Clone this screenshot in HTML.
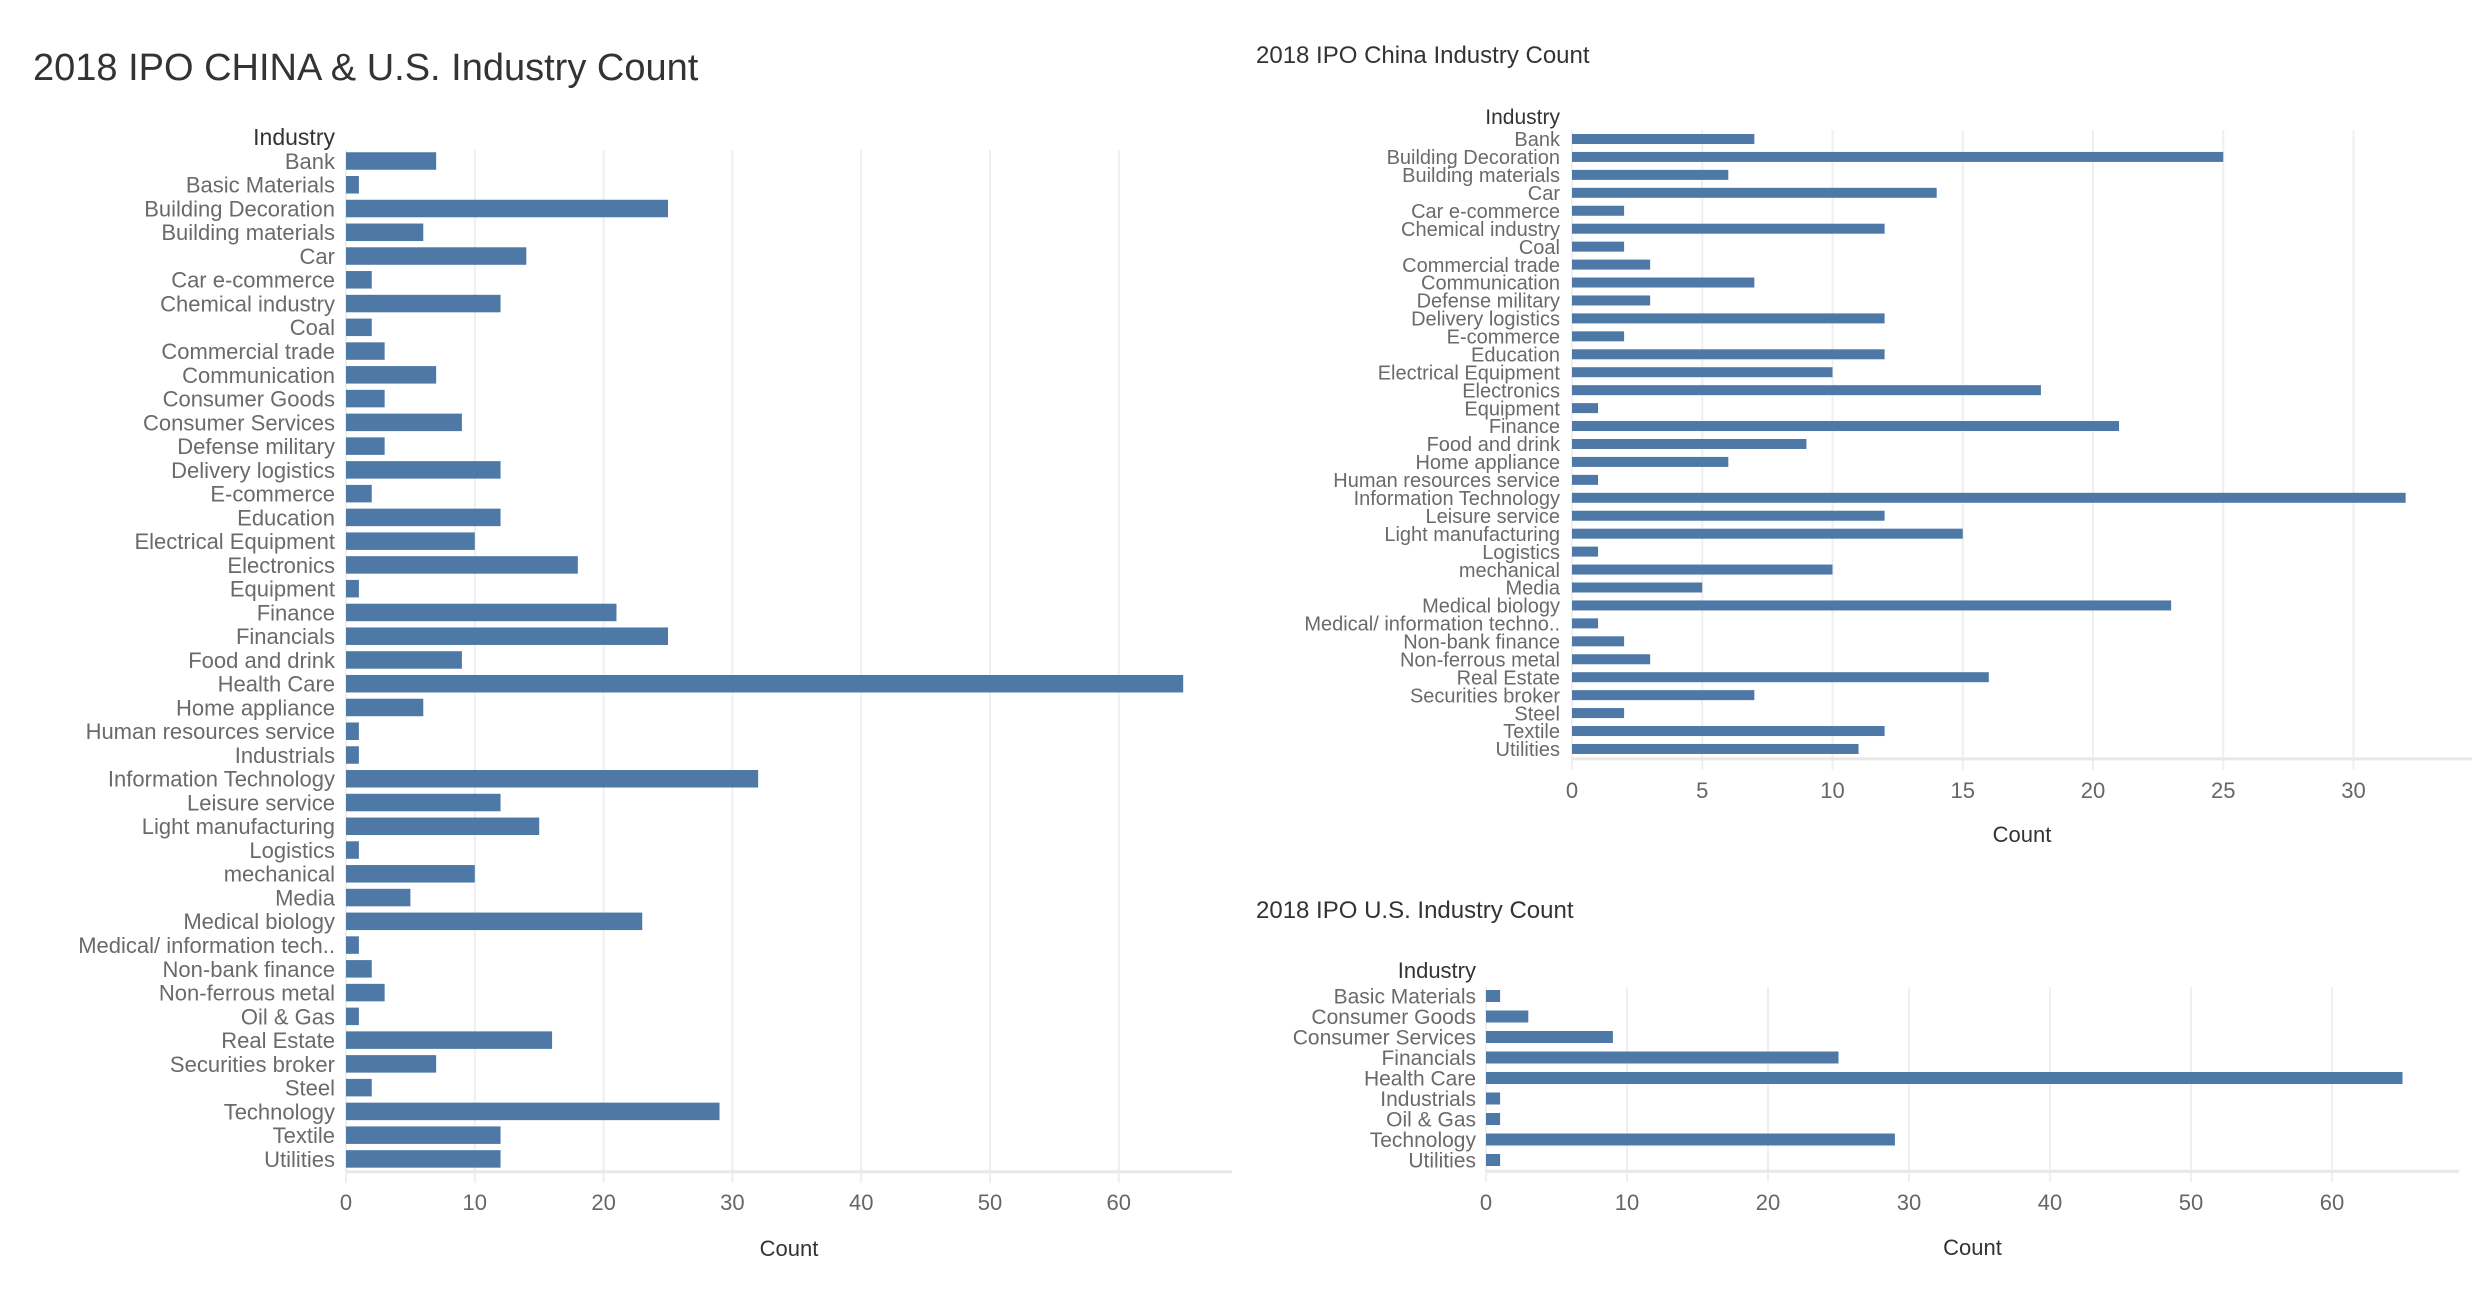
<!DOCTYPE html>
<html><head><meta charset="utf-8"><style>
html,body{margin:0;padding:0;background:#fff;}
svg{display:block;font-family:"Liberation Sans",sans-serif;}
</style></head><body>
<svg id="s" width="2478" height="1298" xmlns="http://www.w3.org/2000/svg">
<text x="33" y="80" font-size="38" fill="#333">2018 IPO  CHINA &amp; U.S.  Industry Count</text>
<text x="1256" y="63" font-size="24" fill="#333">2018 IPO China Industry Count</text>
<text x="1256" y="918" font-size="24" fill="#333">2018 IPO U.S.  Industry Count</text>
</svg>
<script>
const allCats=["Bank","Basic Materials","Building Decoration","Building materials","Car","Car e-commerce","Chemical industry","Coal","Commercial trade","Communication","Consumer Goods","Consumer Services","Defense military","Delivery logistics","E-commerce","Education","Electrical Equipment","Electronics","Equipment","Finance","Financials","Food and drink","Health Care","Home appliance","Human resources service","Industrials","Information Technology","Leisure service","Light manufacturing","Logistics","mechanical","Media","Medical biology","Medical/ information tech..","Non-bank finance","Non-ferrous metal","Oil & Gas","Real Estate","Securities broker","Steel","Technology","Textile","Utilities"];
const allVals=[7,1,25,6,14,2,12,2,3,7,3,9,3,12,2,12,10,18,1,21,25,9,65,6,1,1,32,12,15,1,10,5,23,1,2,3,1,16,7,2,29,12,12];
const allTicks=[0,10,20,30,40,50,60];
const cnCats=["Bank","Building Decoration","Building materials","Car","Car e-commerce","Chemical industry","Coal","Commercial trade","Communication","Defense military","Delivery logistics","E-commerce","Education","Electrical Equipment","Electronics","Equipment","Finance","Food and drink","Home appliance","Human resources service","Information Technology","Leisure service","Light manufacturing","Logistics","mechanical","Media","Medical biology","Medical/ information techno..","Non-bank finance","Non-ferrous metal","Real Estate","Securities broker","Steel","Textile","Utilities"];
const cnVals=[7,25,6,14,2,12,2,3,7,3,12,2,12,10,18,1,21,9,6,1,32,12,15,1,10,5,23,1,2,3,16,7,2,12,11];
const cnTicks=[0,5,10,15,20,25,30];
const usCats=["Basic Materials","Consumer Goods","Consumer Services","Financials","Health Care","Industrials","Oil & Gas","Technology","Utilities"];
const usVals=[1,3,9,25,65,1,1,29,1];
const usTicks=[0,10,20,30,40,50,60];

const svg=document.getElementById('s');
const NS="http://www.w3.org/2000/svg";
function mk(tag,attrs,parent){const e=document.createElementNS(NS,tag);for(const k in attrs)e.setAttribute(k,attrs[k]);(parent||svg).appendChild(e);return e;}

function chart(name,cats,vals,ticks,c){
  const g=mk('g',{});
  
  
  const xs=v=>c.x0+v*c.k;
  const yc=i=>c.y0+i*c.pitch;
  const bottom=yc(cats.length-1)+c.pitch/2;
  ticks.forEach(t=>{
    const l=mk('line',{x1:xs(t),x2:xs(t),y1:c.gTop,y2:bottom+12,stroke:'#efefef','stroke-width':2},g);
    
    
    const tx=mk('text',{x:xs(t),y:c.tickY,'font-size':c.tfs,fill:'#666','text-anchor':'middle'},g);
    tx.textContent=t;
    
    
  });
  const ax=mk('line',{x1:c.x0,x2:c.xr,y1:bottom+1,y2:bottom+1,stroke:'#e8e8e8','stroke-width':3},g);
  
  
  cats.forEach((cat,i)=>{
    const r=mk('rect',{x:c.x0,y:yc(i)-c.bh/2,width:xs(vals[i])-c.x0,height:c.bh,fill:'#4e79a7'},g);
    
    
    const t=mk('text',{x:c.lx,y:yc(i)+c.lfs*0.36,'font-size':c.lfs,fill:'#6a6a6a','text-anchor':'end'},g);
    t.textContent=cat;
    
    
  });
  const h=mk('text',{x:c.lx,y:c.hy,'font-size':c.lfs+1,fill:'#333','text-anchor':'end'},g);
  h.textContent='Industry';
  
  
  const ct=mk('text',{x:(c.x0+c.xr)/2,y:c.countY,'font-size':22,fill:'#333','text-anchor':'middle'},g);
  ct.textContent='Count';
  
  
}
chart('combined-chart',allCats,allVals,allTicks,{x0:346,k:12.88,xr:1232,y0:161,pitch:23.76,bh:17.5,gTop:150,lx:335,lfs:22,hy:145,tickY:1210,tfs:22,countY:1256});
chart('china-chart',cnCats,cnVals,cnTicks,{x0:1572,k:26.05,xr:2472,y0:139,pitch:17.94,bh:10,gTop:130,lx:1560,lfs:20,hy:124,tickY:798,tfs:22,countY:842});
chart('us-chart',usCats,usVals,usTicks,{x0:1486,k:14.1,xr:2459,y0:996,pitch:20.5,bh:12,gTop:987,lx:1476,lfs:21,hy:978,tickY:1210,tfs:22,countY:1255});
</script>
</body></html>
